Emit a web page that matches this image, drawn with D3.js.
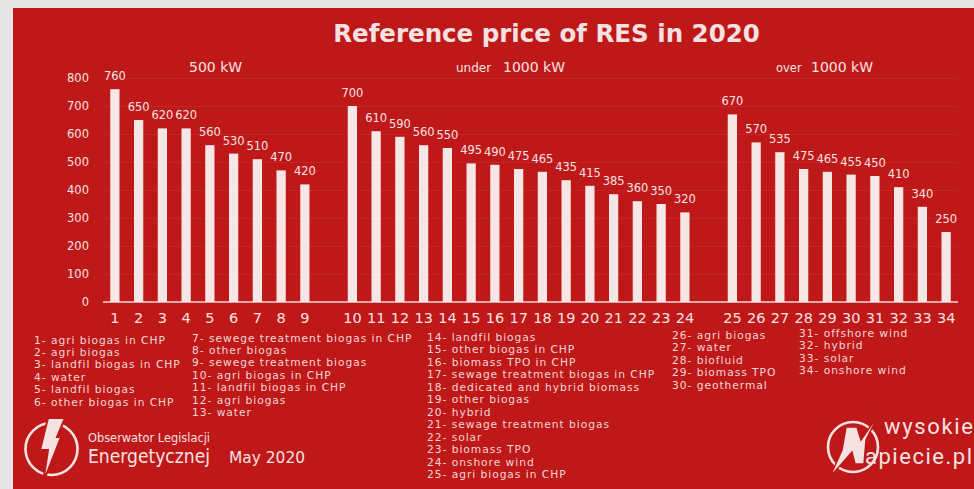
<!DOCTYPE html>
<html>
<head>
<meta charset="utf-8">
<script src="https://cdn.jsdelivr.net/npm/d3@7"></script>
<style>
  html, body { margin: 0; padding: 0; background: #e6e6e6; }
  svg { display: block; }
  text { font-family: "DejaVu Sans", Verdana, sans-serif; }
</style>
</head>
<body>
<svg id="chart" width="974" height="489"></svg>
<script>
// ---- data ----
const categories = ["1","2","3","4","5","6","7","8","9","10","11","12","13","14","15","16","17","18","19","20","21","22","23","24","25","26","27","28","29","30","31","32","33","34"];
const values = [760,650,620,620,560,530,510,470,420,
                700,610,590,560,550,495,490,475,465,435,415,385,360,350,320,
                670,570,535,475,465,455,450,410,340,250];
const groups = [
  {label: "500 kW", prefix: ""},
  {label: "1000 kW", prefix: "under"},
  {label: "1000 kW", prefix: "over"}
];
const groupSizes = [9, 15, 10];
const yTicks = [0,100,200,300,400,500,600,700,800];
const title = "Reference price of RES in 2020";
const legendCol1 = ["1- agri biogas in CHP","2- agri biogas","3- landfil biogas in CHP","4- water","5- landfil biogas","6- other biogas in CHP"];
const legendCol2 = ["7- sewege treatment biogas in CHP","8- other biogas","9- sewege treatment biogas","10- agri biogas in CHP","11- landfil biogas in CHP","12- agri biogas","13- water"];
const legendCol3 = ["14- landfil biogas","15- other biogas in CHP","16- biomass TPO in CHP","17- sewage treatment biogas in CHP","18- dedicated and hybrid biomass","19- other biogas","20- hybrid","21- sewage treatment biogas","22- solar","23- biomass TPO","24- onshore wind","25- agri biogas in CHP"];
const legendCol4 = ["26- agri biogas","27- water","28- biofluid","29- biomass TPO","30- geothermal"];
const legendCol5 = ["31- offshore wind","32- hybrid","33- solar","34- onshore wind"];

// ---- styles ----
const RED = "#be1818";
const LIGHT = "#f6e2e2";
const BAR = "#f7e6e6";

const svg = d3.select("#chart");
svg.append("rect").attr("width", 974).attr("height", 489).attr("fill", "#e6e6e6");
svg.append("rect").attr("x", 13).attr("y", 8).attr("width", 961).attr("height", 481).attr("fill", RED);

// slots: groups separated by empty gap slots
const slots = [];
let ci = 0;
groupSizes.forEach((n, gi) => {
  if (gi > 0) slots.push("gap" + gi);
  for (let k = 0; k < n; k++) slots.push(categories[ci++]);
});

const x = d3.scaleBand().domain(slots).range([103, 958]).paddingInner(0.61).paddingOuter(0.305);
const y = d3.scaleLinear().domain([0, 800]).range([302, 78]);

// grid + y labels
const yAxis = svg.append("g").attr("transform", "translate(103,0)")
  .call(d3.axisLeft(y).tickValues(yTicks).tickSize(-855).tickPadding(14));
yAxis.select(".domain").remove();
yAxis.selectAll("line").attr("stroke", "rgba(255,255,255,0.1)").attr("stroke-dasharray", "1.5,1");
yAxis.selectAll("text").attr("fill", LIGHT).style("font-size", "11.5px")
  .style("font-family", '"DejaVu Sans", Verdana, sans-serif');

// baseline
svg.append("line").attr("x1", 103).attr("x2", 958).attr("y1", y(0)).attr("y2", y(0))
  .attr("stroke", "#f3d4d4").attr("stroke-width", 1.5);

// bars
const data = categories.map((c, i) => ({c, v: values[i]}));
svg.append("g").selectAll("rect").data(data).join("rect")
  .attr("x", d => x(d.c)).attr("width", x.bandwidth())
  .attr("y", d => y(d.v)).attr("height", d => y(0) - y(d.v))
  .attr("fill", BAR);

// value labels
svg.append("g").selectAll("text").data(data).join("text")
  .attr("x", d => x(d.c) + x.bandwidth() / 2).attr("y", d => y(d.v) - 9)
  .attr("text-anchor", "middle").attr("fill", LIGHT).style("font-size", "11.5px")
  .text(d => d.v);

// x axis labels
const xAxis = svg.append("g").attr("transform", `translate(0,${y(0)})`)
  .call(d3.axisBottom(x).tickValues(categories).tickSize(0).tickPadding(11));
xAxis.select(".domain").remove();
xAxis.selectAll("text").attr("fill", LIGHT).style("font-size", "14.5px")
  .style("font-family", '"DejaVu Sans", Verdana, sans-serif');

// title
svg.append("text").attr("x", 546.5).attr("y", 42).attr("text-anchor", "middle")
  .attr("fill", "#f6e0e0").style("font-size", "24.5px").style("font-weight", "bold").text(title);

// group headers
const hdr = svg.append("g").attr("fill", LIGHT);
hdr.append("text").attr("x", 189).attr("y", 72).style("font-size", "14px").text(groups[0].label);
hdr.append("text").attr("x", 456).attr("y", 72).style("font-size", "12px").text(groups[1].prefix);
hdr.append("text").attr("x", 503).attr("y", 72).style("font-size", "14px").text(groups[1].label);
hdr.append("text").attr("x", 776).attr("y", 72).style("font-size", "11.5px").text(groups[2].prefix);
hdr.append("text").attr("x", 811).attr("y", 72).style("font-size", "14px").text(groups[2].label);

// legend
const legendCols = [
  {items: legendCol1, x: 34, y: 343.5},
  {items: legendCol2, x: 192, y: 341.5},
  {items: legendCol3, x: 427, y: 341},
  {items: legendCol4, x: 672, y: 339},
  {items: legendCol5, x: 799, y: 337}
];
const lg = svg.append("g").attr("fill", "#f3d6d6").style("font-size", "10.7px").style("letter-spacing", "0.95px");
legendCols.forEach(col => {
  lg.append("g").selectAll("text").data(col.items).join("text")
    .attr("x", col.x).attr("y", (d, i) => col.y + i * 12.45).text(d => d);
});

// left logo
const logoL = svg.append("g");
logoL.append("circle").attr("cx", 51.5).attr("cy", 449).attr("r", 26)
  .attr("fill", "none").attr("stroke", LIGHT).attr("stroke-width", 2.6);
logoL.append("path").attr("d", "M48 418 L65 418 L57 437 L61 437 L43 483 L48 450 L40 450 Z")
  .attr("fill", LIGHT).attr("stroke", RED).attr("stroke-width", 2);
logoL.append("text").attr("x", 88).attr("y", 441.5).attr("fill", LIGHT)
  .style("font-family", '"DejaVu Sans Condensed", "DejaVu Sans", sans-serif').style("font-size", "12.5px")
  .attr("textLength", 122).attr("lengthAdjust", "spacingAndGlyphs")
  .text("Obserwator Legislacji");
logoL.append("text").attr("x", 88).attr("y", 463).attr("fill", LIGHT)
  .style("font-family", '"DejaVu Sans Condensed", "DejaVu Sans", sans-serif').style("font-size", "19px")
  .attr("textLength", 122).attr("lengthAdjust", "spacingAndGlyphs")
  .text("Energetycznej");
svg.append("text").attr("x", 229).attr("y", 462.5).attr("fill", LIGHT).style("font-size", "16.5px")
  .attr("textLength", 76).attr("lengthAdjust", "spacingAndGlyphs").text("May 2020");

// right logo
const logoR = svg.append("g");
logoR.append("circle").attr("cx", 853).attr("cy", 447).attr("r", 25)
  .attr("fill", "none").attr("stroke", LIGHT).attr("stroke-width", 2.6);
logoR.append("path").attr("d", "M879 414 L866 440 L864 464 L855 464 L852 452 L830 477 L842 450 L846 427 L857 427 L861 440 Z")
  .attr("fill", LIGHT).attr("stroke", RED).attr("stroke-width", 1.5);
logoR.append("text").attr("x", 884).attr("y", 433.5).attr("fill", LIGHT)
  .style("font-family", "Roboto, sans-serif").style("font-size", "22px")
  .attr("textLength", 89).attr("lengthAdjust", "spacing").text("wysokie");
logoR.append("text").attr("x", 865).attr("y", 463.5).attr("fill", LIGHT)
  .style("font-family", "Roboto, sans-serif").style("font-size", "22px")
  .attr("textLength", 107).attr("lengthAdjust", "spacing").text("apiecie.pl");
</script>
</body>
</html>
